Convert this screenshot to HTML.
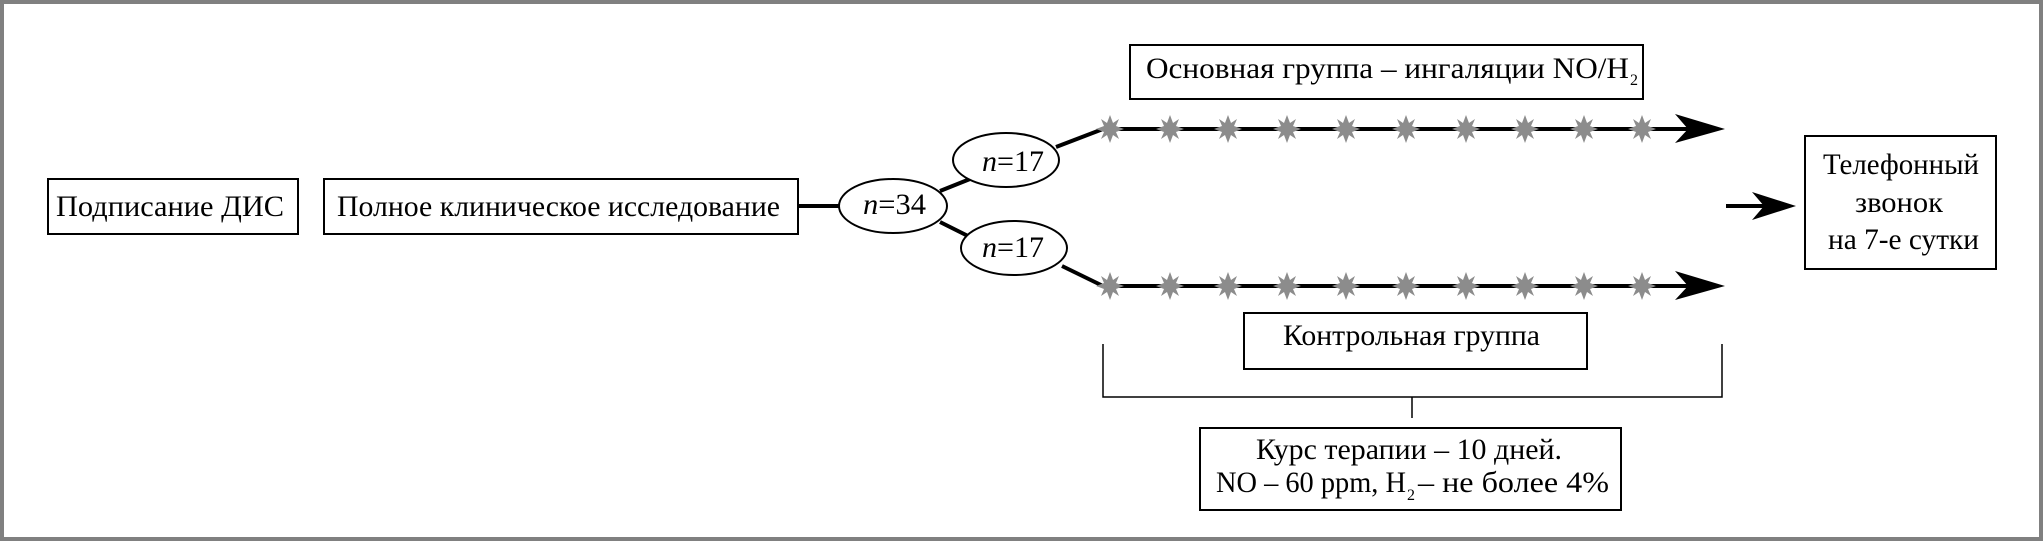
<!DOCTYPE html>
<html><head><meta charset="utf-8"><style>
html,body{margin:0;padding:0;background:#fff}
svg{display:block}
text{font-family:"Liberation Serif","DejaVu Serif",serif;font-size:30px;fill:#000}
</style></head><body>
<svg width="2043" height="541" viewBox="0 0 2043 541" xmlns="http://www.w3.org/2000/svg">
<defs>
<polygon id="st" fill="#8c8c8c" points="0,-14 3,-6 9,-10 6,-3 14,0 6,3 9,10 3,6 0,14 -3,6 -9,10 -6,3 -14,0 -6,-3 -9,-10 -3,-6"/>
</defs>
<rect x="2" y="2" width="2039" height="537" fill="#fff" stroke="#808080" stroke-width="4"/>
<g fill="#fff" stroke="#000" stroke-width="2">
<rect x="48" y="179" width="250" height="55"/>
<rect x="324" y="179" width="474" height="55"/>
<rect x="1130" y="45" width="513" height="54"/>
<rect x="1805" y="136" width="191" height="133"/>
<rect x="1244" y="313" width="343" height="56"/>
<rect x="1200" y="428" width="421" height="82"/>
</g>
<g stroke="#000" stroke-width="4" fill="none">
<line x1="798" y1="206" x2="839" y2="206"/>
<line x1="940" y1="191" x2="970" y2="179"/>
<line x1="940" y1="222" x2="968" y2="236"/>
<line x1="1056" y1="147" x2="1103" y2="129"/>
<line x1="1062" y1="266" x2="1103" y2="286"/>
<line x1="1103" y1="129" x2="1690" y2="129"/>
<line x1="1103" y1="286" x2="1690" y2="286"/>
<line x1="1726" y1="206" x2="1770" y2="206"/>
</g>
<g fill="#000">
<polygon points="1675,114 1725,129 1675,143 1688,129"/>
<polygon points="1675,271 1725,286 1675,300 1688,286"/>
<polygon points="1752,192 1796,206 1752,220 1764,206"/>
</g>
<g fill="#fff" stroke="#000" stroke-width="2">
<ellipse cx="893" cy="206" rx="54" ry="27"/>
<ellipse cx="1006" cy="160" rx="53" ry="27"/>
<ellipse cx="1014" cy="248" rx="53" ry="27"/>
</g>
<g>
<use href="#st" x="1110" y="129"/><use href="#st" x="1170" y="129"/><use href="#st" x="1228" y="129"/><use href="#st" x="1287" y="129"/><use href="#st" x="1346" y="129"/><use href="#st" x="1406" y="129"/><use href="#st" x="1466" y="129"/><use href="#st" x="1525" y="129"/><use href="#st" x="1584" y="129"/><use href="#st" x="1642" y="129"/>
<use href="#st" x="1110" y="286"/><use href="#st" x="1170" y="286"/><use href="#st" x="1228" y="286"/><use href="#st" x="1287" y="286"/><use href="#st" x="1346" y="286"/><use href="#st" x="1406" y="286"/><use href="#st" x="1466" y="286"/><use href="#st" x="1525" y="286"/><use href="#st" x="1584" y="286"/><use href="#st" x="1642" y="286"/>
</g>
<g stroke="#000" stroke-width="1.5" fill="none">
<polyline points="1103,344 1103,397 1722,397 1722,344"/>
<line x1="1412" y1="397" x2="1412" y2="418"/>
</g>
<text x="56" y="216" textLength="228" lengthAdjust="spacingAndGlyphs">Подписание ДИС</text>
<text x="337" y="216" textLength="443" lengthAdjust="spacingAndGlyphs">Полное клиническое исследование</text>
<text x="863" y="214" textLength="63" lengthAdjust="spacingAndGlyphs"><tspan font-style="italic">n</tspan>=34</text>
<text x="982" y="171" textLength="62" lengthAdjust="spacingAndGlyphs"><tspan font-style="italic">n</tspan>=17</text>
<text x="982" y="257" textLength="62" lengthAdjust="spacingAndGlyphs"><tspan font-style="italic">n</tspan>=17</text>
<text x="1146" y="78" textLength="483" lengthAdjust="spacingAndGlyphs">Основная группа – ингаляции NO/H</text>
<text x="1630" y="85" style="font-size:16px">2</text>
<text x="1823" y="174" textLength="156" lengthAdjust="spacingAndGlyphs">Телефонный</text>
<text x="1855" y="212" textLength="88" lengthAdjust="spacingAndGlyphs">звонок</text>
<text x="1828" y="249" textLength="151" lengthAdjust="spacingAndGlyphs">на 7-е сутки</text>
<text x="1283" y="345" textLength="257" lengthAdjust="spacingAndGlyphs">Контрольная группа</text>
<text x="1256" y="459" textLength="306" lengthAdjust="spacingAndGlyphs">Курс терапии – 10 дней.</text>
<text x="1216" y="492" textLength="190" lengthAdjust="spacingAndGlyphs">NO – 60 ppm, H</text>
<text x="1407" y="500" style="font-size:16px">2</text>
<text x="1418" y="492" textLength="191" lengthAdjust="spacingAndGlyphs"> – не более 4%</text>
</svg>
</body></html>
